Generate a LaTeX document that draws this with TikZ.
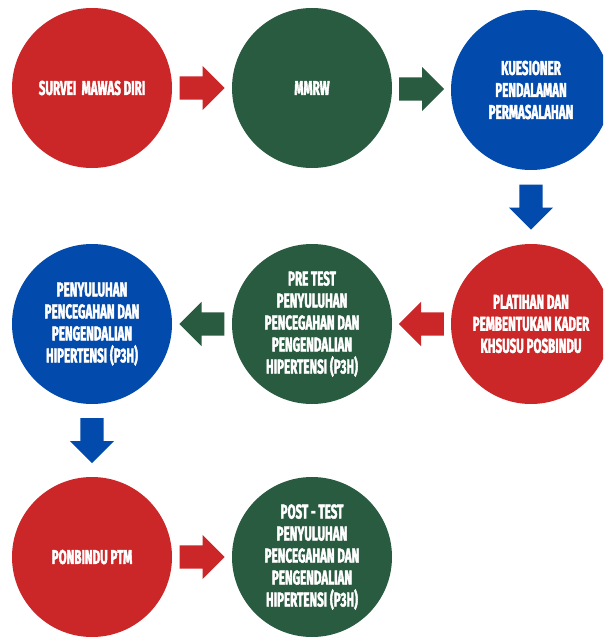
\documentclass[tikz,border=0pt]{standalone}
\usepackage{fontspec}
\setmainfont{Fira Sans}[FakeStretch=0.58, BoldFeatures={FakeBold=2}]
\usepackage{tikz}
\usetikzlibrary{shapes.arrows, calc}
\definecolor{redfill}{RGB}{203, 38, 40}
\definecolor{grnfill}{RGB}{41, 91, 65}
\definecolor{bluefill}{RGB}{2, 75, 173}

\begin{document}
\begin{tikzpicture}[x=1pt, y=-1pt,
  phase/.style={circle, minimum size=160pt, inner sep=0pt, text=white, align=center,
    font=\bfseries\fontsize{20}{22}\selectfont},
  blockarrow/.style={single arrow, anchor=tail, inner xsep=0pt, inner ysep=11.5pt,
    minimum height=45pt, single arrow head extend=10.5pt, single arrow tip angle=90}]
  \clip (0,0) rectangle (603,637);
  \fill[white] (0,0) rectangle (603,637);
  % circles
  \node[phase, fill=redfill] (survei) at (92,88) {SURVEI\ \ MAWAS DIRI};
  \node[phase, fill=grnfill] (mmrw) at (312,88) {MMRW};
  \node[phase, fill=bluefill] (kuesioner) at (531,90) {KUESIONER\\PENDALAMAN\\PERMASALAHAN};
  \node[phase, fill=redfill] (platihan) at (531,324) {PLATIHAN DAN\\PEMBENTUKAN KADER\\KHSUSU POSBINDU};
  \node[phase, fill=grnfill] (pretest) at (312,324) {PRE TEST\\PENYULUHAN\\PENCEGAHAN DAN\\PENGENDALIAN\\HIPERTENSI (P3H)};
  \node[phase, fill=bluefill] (penyuluhan) at (92,324) {PENYULUHAN\\PENCEGAHAN DAN\\PENGENDALIAN\\HIPERTENSI (P3H)};
  \node[phase, fill=redfill] (ponbindu) at (92,557) {PONBINDU PTM};
  \node[phase, fill=grnfill] (posttest) at (312,557) {POST - TEST\\PENYULUHAN\\PENCEGAHAN DAN\\PENGENDALIAN\\HIPERTENSI (P3H)};
  % arrows, tail half a length before the midpoint
  \node[blockarrow, fill=redfill] (a1) at ($(survei)!0.5!(mmrw)+(-22.5,0)$) {};
  \node[blockarrow, fill=grnfill] (a2) at ($(mmrw)!0.5!(kuesioner)+(-22.5,0)$) {};
  \node[blockarrow, fill=bluefill, rotate=-90] (a3) at ($(kuesioner)!0.5!(platihan)+(0,-22.5)$) {};
  \node[blockarrow, fill=redfill, rotate=180] (a4) at ($(platihan)!0.5!(pretest)+(22.5,0)$) {};
  \node[blockarrow, fill=grnfill, rotate=180] (a5) at ($(pretest)!0.5!(penyuluhan)+(22.5,0)$) {};
  \node[blockarrow, fill=bluefill, rotate=-90] (a6) at ($(penyuluhan)!0.5!(ponbindu)+(0,-22.5)$) {};
  \node[blockarrow, fill=redfill] (a7) at ($(ponbindu)!0.5!(posttest)+(-22.5,0)$) {};
\end{tikzpicture}
\end{document}
